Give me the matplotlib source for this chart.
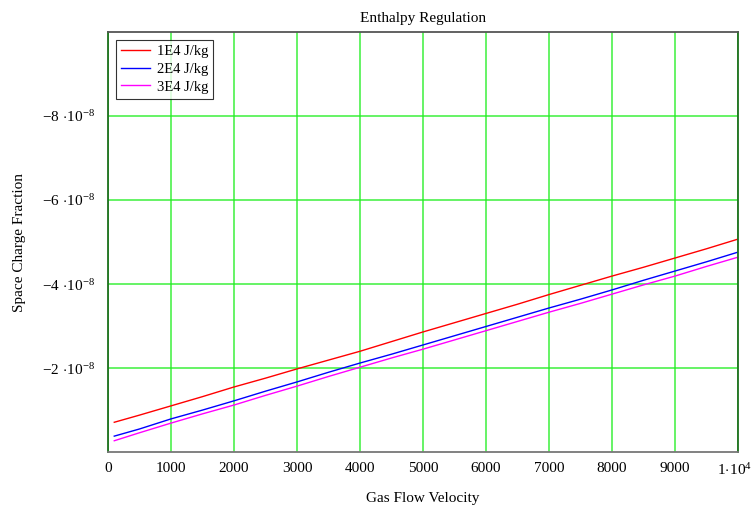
import numpy as np
import matplotlib.pyplot as plt
import matplotlib.transforms as mtransforms
from matplotlib.ticker import FixedLocator, FuncFormatter

plt.rcParams['font.family'] = ['Liberation Serif', 'DejaVu Serif']
plt.rcParams['mathtext.fontset'] = 'custom'
plt.rcParams['mathtext.rm'] = 'Liberation Serif'
plt.rcParams['mathtext.it'] = 'Liberation Serif:italic'

# gas flow velocity samples
velocity = [100, 500, 1000, 1500, 2000, 2500, 3000, 3500, 4000, 4500, 5000,
            5500, 6000, 6500, 7000, 7500, 8000, 8500, 9000, 9500, 10000]

# space charge fraction in units of 1e-8 (negative)
frac_1e4 = [0.71, 0.88, 1.10, 1.32, 1.55, 1.76, 1.98, 2.19, 2.40, 2.63, 2.86,
            3.08, 3.30, 3.52, 3.75, 3.97, 4.19, 4.40, 4.62, 4.84, 5.07]
frac_2e4 = [0.38, 0.55, 0.79, 1.00, 1.22, 1.45, 1.67, 1.90, 2.12, 2.33, 2.55,
            2.77, 2.99, 3.21, 3.43, 3.64, 3.86, 4.09, 4.31, 4.53, 4.76]
frac_3e4 = [0.27, 0.46, 0.69, 0.91, 1.12, 1.35, 1.57, 1.80, 2.02, 2.24, 2.45,
            2.67, 2.89, 3.11, 3.33, 3.54, 3.76, 3.98, 4.19, 4.42, 4.64]

labels = ['1E4 J/kg', '2E4 J/kg', '3E4 J/kg']
colors = ['#ff0000', '#0000ff', '#ff00ff']

x_ticks = [0, 1000, 2000, 3000, 4000, 5000, 6000, 7000, 8000, 9000, 10000]
y_ticks = [-2e-8, -4e-8, -6e-8, -8e-8]

fig = plt.figure(figsize=(7.55, 5.12), dpi=100)
ax = fig.add_axes([0.143, 0.117, 0.8345, 0.8205])

for vals, lab, c in zip([frac_1e4, frac_2e4, frac_3e4], labels, colors):
    ax.plot(velocity, -np.array(vals) * 1e-8, color=c, lw=1.0, label=lab)

ax.set_xlim(0, 10000)
ax.set_ylim(0, -1e-7)

def fmt_x(v, pos):
    if v >= 10000:
        return r'$1\!\cdot\!10^{4}$'
    return '%d' % v

def fmt_y(v, pos):
    m = int(round(v / 1e-8))
    return r'$-%d\,\cdot\!10^{-8}$' % abs(m)

ax.xaxis.set_major_locator(FixedLocator(x_ticks))
ax.yaxis.set_major_locator(FixedLocator(y_ticks))
ax.xaxis.set_major_formatter(FuncFormatter(fmt_x))
ax.yaxis.set_major_formatter(FuncFormatter(fmt_y))
ax.tick_params(length=0, labelsize=11)
ax.tick_params(axis='x', pad=7)
ax.tick_params(axis='y', pad=9)

# nudge the last x label so it stays inside the figure
last = ax.get_xticklabels()[-1]
last.set_transform(last.get_transform() +
                   mtransforms.ScaledTranslation(-3 / 100, 0, fig.dpi_scale_trans))

ax.grid(True, color='#22ee22', lw=1.3, alpha=0.75)
ax.set_axisbelow(True)

ax.spines['left'].set_color('#1f6f1f')
ax.spines['right'].set_color('#1f6f1f')
ax.spines['top'].set_color('#555555')
ax.spines['bottom'].set_color('#777777')
for s in ax.spines.values():
    s.set_linewidth(1.3)

ax.set_title('Enthalpy Regulation', fontsize=11, pad=7)
ax.set_xlabel('Gas Flow Velocity', fontsize=11, labelpad=10)
ax.set_ylabel('Space Charge Fraction', fontsize=11, labelpad=12)

leg = ax.legend(loc='upper left', fontsize=10.5, frameon=True, fancybox=False,
                borderaxespad=0.55, handlelength=2.0, handletextpad=0.45,
                labelspacing=0.3, borderpad=0.35)
leg.get_frame().set_edgecolor('black')
leg.get_frame().set_linewidth(0.8)

fig.savefig('out.png', dpi=100)
